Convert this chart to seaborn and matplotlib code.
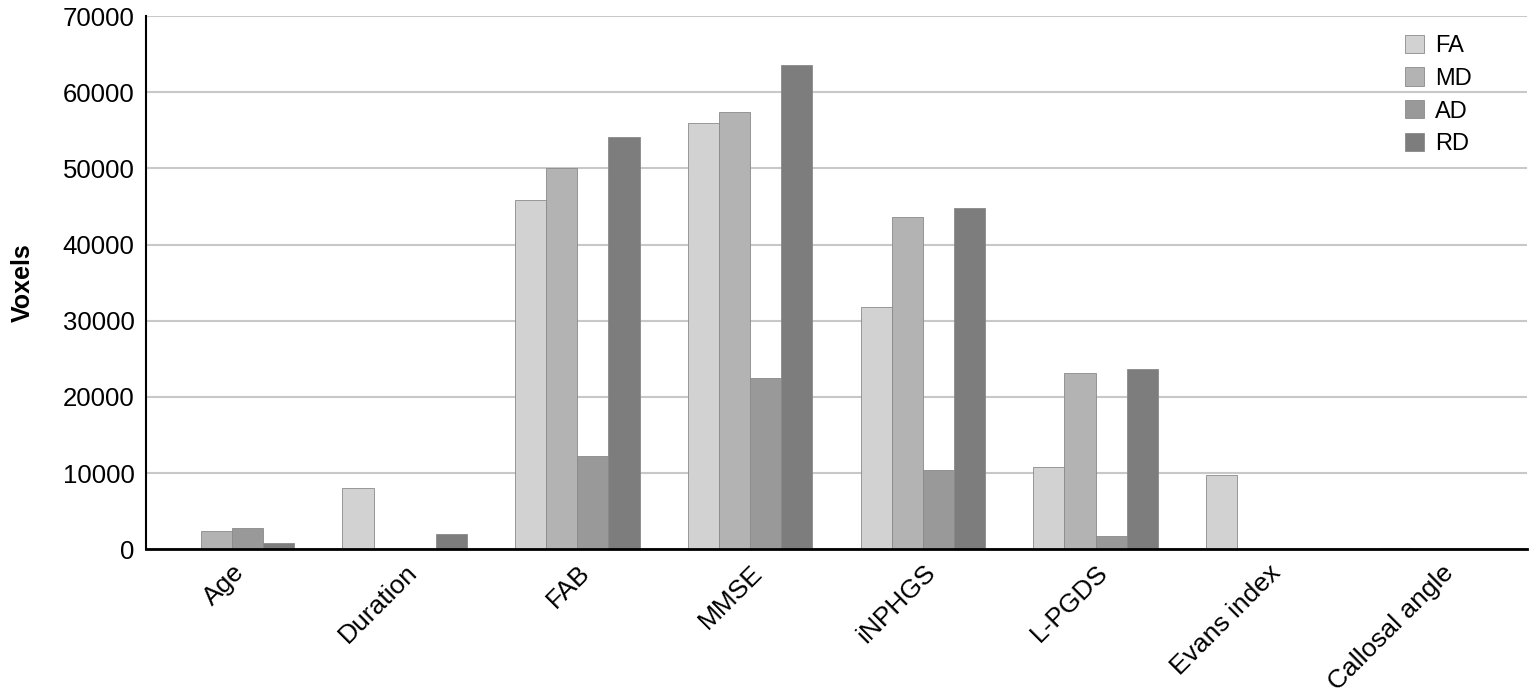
import seaborn as sns
import matplotlib.pyplot as plt
import pandas as pd

# Valores
categorias = ['Age', 'Duration', 'FAB', 'MMSE', 'iNPHGS', 'L-PGDS', 'Evans index', 'Callosal angle']
fa = [0, 8000, 45800, 56000, 31800, 10800, 9700, 200]
md = [2400, 0, 50000, 57400, 43600, 23200, 0, 0]
ad = [2800, 0, 12200, 22500, 10400, 1700, 0, 0]
rd = [800, 2000, 54100, 63600, 44800, 23600, 0, 0]

series = ['FA', 'MD', 'AD', 'RD']
cores = ['#d2d2d2', '#b3b3b3', '#999999', '#7d7d7d']

rows = []
for nome, vals in zip(series, [fa, md, ad, rd]):
    for c, v in zip(categorias, vals):
        rows.append({'categoria': c, 'medida': nome, 'voxels': v})
df = pd.DataFrame(rows)

sns.set_style('white')
plt.rcParams['font.family'] = ['Liberation Sans', 'DejaVu Sans']
plt.rcParams['text.color'] = 'black'
plt.rcParams['xtick.color'] = 'black'
plt.rcParams['ytick.color'] = 'black'
plt.rcParams['axes.labelcolor'] = 'black'

fig = plt.figure(figsize=(15.32, 6.97), dpi=100)
ax = fig.add_axes([0.095, 0.212, 0.902, 0.765])

sns.barplot(data=df, x='categoria', y='voxels', hue='medida', order=categorias,
            hue_order=series, palette=cores, width=0.72, ax=ax,
            edgecolor='#8a8a8a', linewidth=0.6, saturation=1)

ax.set_ylim(0, 70000)
ax.set_yticks(range(0, 70001, 10000))
ax.yaxis.grid(True, color='#c8c8c8', linewidth=1.5)
ax.set_axisbelow(True)
for s in ['top', 'right']:
    ax.spines[s].set_visible(False)
ax.spines['left'].set_linewidth(1.5)
ax.spines['bottom'].set_linewidth(2)
ax.spines['left'].set_color('black')
ax.spines['bottom'].set_color('black')

ax.tick_params(axis='y', labelsize=18.5, length=0, pad=8)
ax.tick_params(axis='x', labelsize=19, length=0, pad=8)
plt.setp(ax.get_xticklabels(), rotation=45, ha='right', rotation_mode='anchor')

ax.set_xlabel('')
ax.set_ylabel('Voxels', fontsize=18, fontweight='bold', labelpad=20)

ax.legend(loc='upper right', frameon=False, fontsize=17, handlelength=0.8,
          handleheight=0.8, labelspacing=0.45, handletextpad=0.45,
          bbox_to_anchor=(0.975, 1.005))

plt.savefig('out.png', dpi=100)
